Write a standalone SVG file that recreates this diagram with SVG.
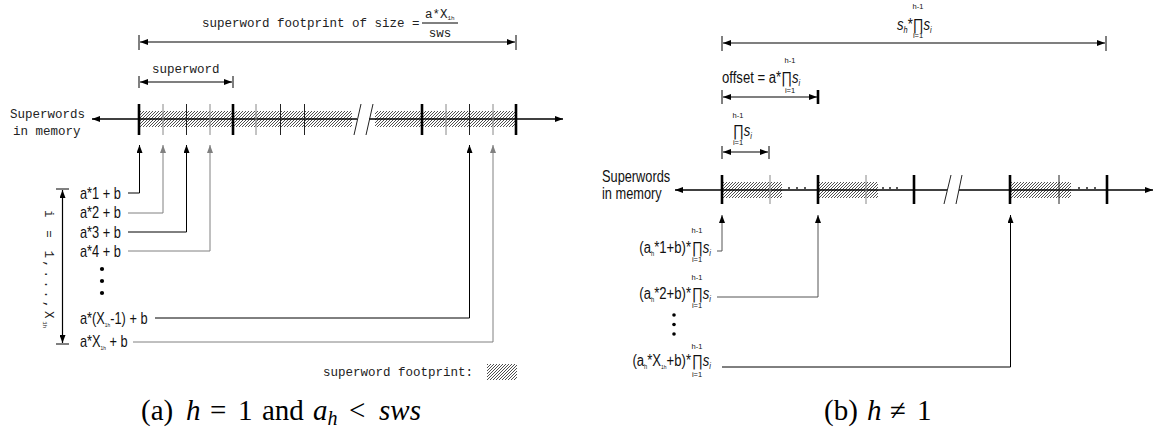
<svg xmlns="http://www.w3.org/2000/svg" width="1156" height="434" viewBox="0 0 1156 434">
<style>
.mono{font-family:"Liberation Mono","DejaVu Sans Mono",monospace;font-size:12.5px;fill:#222}
.sans{font-family:"Liberation Sans",Arial,sans-serif;font-size:16px;fill:#111}
.tiny{font-family:"Liberation Sans",Arial,sans-serif;font-size:7.5px;fill:#111}
.cap{font-family:"Liberation Serif","Times New Roman",serif;font-size:29px;fill:#000}
.it{font-style:italic}
.ln{stroke:#000;stroke-width:1;fill:none}
.gr{stroke:#808080;stroke-width:1;fill:none}
.mem{stroke:#000;stroke-width:1.5;fill:none}
.thick{stroke:#000;stroke-width:2.6;fill:none}
.thin{stroke:#222;stroke-width:1;fill:none}
.thing{stroke:#888;stroke-width:1;fill:none}
.dim{stroke:#000;stroke-width:1.2;fill:none;marker-start:url(#ahs);marker-end:url(#ah)}
.up{marker-end:url(#ah)}
.hatch{fill:url(#hatch);stroke:none}
</style>
<defs>
<pattern id="hatch" patternUnits="userSpaceOnUse" width="3" height="3">
<path d="M-1,1 L1,-1 M0,3 L3,0 M2,4 L4,2" stroke="#222" stroke-width="0.8"/>
</pattern>
<marker id="ah" markerWidth="8" markerHeight="6" refX="8" refY="3" orient="auto" markerUnits="userSpaceOnUse"><path d="M0,0 L8,3 L0,6 z" fill="#000"/></marker>
<marker id="ahs" markerWidth="8" markerHeight="6" refX="8" refY="3" orient="auto-start-reverse" markerUnits="userSpaceOnUse"><path d="M0,0 L8,3 L0,6 z" fill="#000"/></marker>
<marker id="ahg" markerWidth="8" markerHeight="6" refX="8" refY="3" orient="auto" markerUnits="userSpaceOnUse"><path d="M0,0 L8,3 L0,6 z" fill="#808080"/></marker>
</defs>

<!-- ===== LEFT PANEL ===== -->
<g id="dim-footprint">
<text class="mono" x="202" y="27">superword footprint of size =</text>
<text class="mono" x="425" y="18">a*X<tspan font-size="6" dy="2">1h</tspan></text>
<line class="ln" x1="422" y1="23" x2="458" y2="23" stroke-width="0.8"/>
<text class="mono" x="440" y="37" text-anchor="middle">sws</text>
<line class="ln" x1="139" y1="35" x2="139" y2="50"/>
<line class="ln" x1="516" y1="35" x2="516" y2="50"/>
<line class="dim" x1="140" y1="42" x2="515" y2="42"/>
</g>

<g id="dim-superword">
<text class="mono" x="152" y="73">superword</text>
<line class="ln" x1="139" y1="76" x2="139" y2="88"/>
<line class="ln" x1="233" y1="76" x2="233" y2="88"/>
<line class="dim" x1="140" y1="82" x2="232" y2="82"/>
</g>

<g id="memory-left">
<text class="mono" x="10" y="118">Superwords</text>
<text class="mono" x="13" y="135">in memory</text>
<rect class="hatch" x="139" y="111" width="213" height="16"/>
<rect class="hatch" x="375" y="111" width="141" height="16"/>
<line class="mem" x1="357" y1="119" x2="92" y2="119" style="marker-end:url(#ah)"/>
<line class="mem" x1="369" y1="119" x2="563" y2="119" style="marker-end:url(#ah)"/>
<line class="thin" x1="361" y1="104" x2="354" y2="135"/>
<line class="thin" x1="373" y1="104" x2="366" y2="135"/>
<line class="thick" x1="139" y1="104" x2="139" y2="135"/>
<line class="thick" x1="233" y1="104" x2="233" y2="135"/>
<line class="thick" x1="422" y1="104" x2="422" y2="135"/>
<line class="thick" x1="516" y1="104" x2="516" y2="135"/>
<line class="thing" x1="163" y1="104" x2="163" y2="135"/>
<line class="thin" x1="186.5" y1="104" x2="186.5" y2="135"/>
<line class="thing" x1="210" y1="104" x2="210" y2="135"/>
<line class="thing" x1="256" y1="104" x2="256" y2="135"/>
<line class="thin" x1="280.5" y1="104" x2="280.5" y2="135"/>
<line class="thin" x1="304.5" y1="104" x2="304.5" y2="135"/>
<line class="thing" x1="446" y1="104" x2="446" y2="135"/>
<line class="thin" x1="469.5" y1="104" x2="469.5" y2="135"/>
<line class="thing" x1="493" y1="104" x2="493" y2="135"/>
</g>

<g id="label-a1"><text class="sans" transform="translate(80,199) scale(0.8,1)">a*1 + b</text></g>
<g id="label-a2"><text class="sans" transform="translate(80,218) scale(0.8,1)">a*2 + b</text></g>
<g id="label-a3"><text class="sans" transform="translate(80,238) scale(0.8,1)">a*3 + b</text></g>
<g id="label-a4"><text class="sans" transform="translate(80,257) scale(0.8,1)">a*4 + b</text></g>
<g id="dots-left">
<circle cx="102" cy="269" r="2.1" fill="#000"/>
<circle cx="102" cy="281" r="2.1" fill="#000"/>
<circle cx="102" cy="293" r="2.1" fill="#000"/>
</g>
<g id="label-aXm1"><text class="sans" transform="translate(80,324) scale(0.8,1)">a*(X<tspan font-size="6" dy="3">1h</tspan><tspan dy="-3">-1) + b</tspan></text></g>
<g id="label-aX"><text class="sans" transform="translate(80,347) scale(0.8,1)">a*X<tspan font-size="6" dy="3">1h</tspan><tspan dy="-3"> + b</tspan></text></g>

<g id="range-i">
<line class="ln" x1="56" y1="189" x2="69" y2="189"/>
<line class="ln" x1="56" y1="344" x2="69" y2="344"/>
<line class="dim" x1="62.5" y1="190" x2="62.5" y2="343"/>
<text class="mono" transform="translate(45,210) rotate(90)" font-size="12" style="letter-spacing:2.6px">i = 1,...,X<tspan font-size="6" dy="2" style="letter-spacing:0">1h</tspan></text>
</g>

<g id="legend">
<text class="mono" x="323" y="376">superword footprint:</text>
<rect class="hatch" x="487" y="364" width="30" height="16"/>
</g>

<g id="caption-a">
<text class="cap" x="141" y="420">(a)</text>
<text class="cap it" x="186" y="420">h</text>
<text class="cap" x="210" y="420">=</text>
<text class="cap" x="238" y="420">1</text>
<text class="cap" x="262" y="420">and</text>
<text class="cap it" x="313" y="420">a<tspan font-size="20" dy="5">h</tspan></text>
<text class="cap" x="349" y="420">&lt;</text>
<text class="cap it" x="379" y="420">sws</text>
</g>

<!-- ===== RIGHT PANEL ===== -->
<g id="dim-total">
<text class="tiny" x="918" y="9" text-anchor="middle">h-1</text>
<text class="sans" transform="translate(897,30) scale(0.82,1)"><tspan class="it">s</tspan><tspan class="it" font-size="9" dy="3">h</tspan><tspan dy="-3">*∏</tspan><tspan class="it">s</tspan><tspan class="it" font-size="9" dy="3">i</tspan></text>
<text class="tiny" x="918" y="38" text-anchor="middle">i=1</text>
<line class="ln" x1="722" y1="36" x2="722" y2="51"/>
<line class="ln" x1="1106" y1="36" x2="1106" y2="51"/>
<line class="dim" x1="723" y1="43" x2="1105" y2="43"/>
</g>

<g id="dim-offset">
<text class="sans" transform="translate(722,83) scale(0.82,1)">offset =  a*∏<tspan class="it">s</tspan><tspan class="it" font-size="9" dy="3">i</tspan></text>
<text class="tiny" x="790" y="63" text-anchor="middle">h-1</text>
<text class="tiny" x="790" y="93" text-anchor="middle">i=1</text>
<line class="ln" x1="722" y1="90" x2="722" y2="104"/>
<line class="thick" x1="818" y1="90" x2="818" y2="104" stroke-width="1.8"/>
<line class="dim" x1="723" y1="97" x2="817" y2="97"/>
</g>

<g id="dim-prod">
<text class="tiny" x="738" y="118" text-anchor="middle">h-1</text>
<text class="sans" transform="translate(733,136) scale(0.82,1)">∏<tspan class="it">s</tspan><tspan class="it" font-size="9" dy="3">i</tspan></text>
<text class="tiny" x="738" y="145" text-anchor="middle">i=1</text>
<line class="ln" x1="722" y1="146" x2="722" y2="159"/>
<line class="ln" x1="769" y1="146" x2="769" y2="159"/>
<line class="dim" x1="723" y1="152" x2="768" y2="152"/>
</g>

<g id="memory-right">
<text class="sans" transform="translate(602,182) scale(0.8,1)" font-size="15">Superwords</text>
<text class="sans" transform="translate(602,199) scale(0.8,1)" font-size="15">in memory</text>
<rect class="hatch" x="722" y="182" width="60" height="16"/>
<rect class="hatch" x="818" y="182" width="60" height="16"/>
<rect class="hatch" x="1010" y="182" width="61" height="16"/>
<line class="mem" x1="947" y1="190" x2="675" y2="190" style="marker-end:url(#ah)"/>
<line class="mem" x1="959" y1="190" x2="1153" y2="190" style="marker-end:url(#ah)"/>
<line class="thin" x1="951" y1="175" x2="944" y2="204"/>
<line class="thin" x1="962" y1="175" x2="956" y2="204"/>
<line class="thick" x1="722" y1="175" x2="722" y2="204"/>
<line class="thick" x1="818" y1="175" x2="818" y2="204"/>
<line class="thick" x1="914" y1="175" x2="914" y2="204"/>
<line class="thick" x1="1010" y1="175" x2="1010" y2="204"/>
<line class="thick" x1="1107" y1="175" x2="1107" y2="204"/>
<line class="thing" x1="770" y1="175" x2="770" y2="204"/>
<line class="thing" x1="866" y1="175" x2="866" y2="204"/>
<line class="thin" x1="1059" y1="175" x2="1059" y2="204"/>
<g fill="#222">
<circle cx="789" cy="188" r="1"/><circle cx="797" cy="188" r="1"/><circle cx="805" cy="188" r="1"/>
<circle cx="883" cy="188" r="1"/><circle cx="890" cy="188" r="1"/><circle cx="897" cy="188" r="1"/>
<circle cx="1079" cy="188" r="1"/><circle cx="1087" cy="188" r="1"/><circle cx="1095" cy="188" r="1"/>
</g>
</g>

<g id="label-r1">
<text class="tiny" x="697" y="233" text-anchor="middle">h-1</text>
<text class="sans" transform="translate(691,253) scale(0.82,1)" text-anchor="end">(a<tspan font-size="7" dy="3">h</tspan><tspan dy="-3">*1+b)*</tspan></text>
<text class="sans" transform="translate(692,253) scale(0.82,1)">∏<tspan class="it">s</tspan><tspan class="it" font-size="9" dy="3">i</tspan></text>
<text class="tiny" x="697" y="262" text-anchor="middle">i=1</text>
</g>
<g id="label-r2">
<text class="tiny" x="697" y="280" text-anchor="middle">h-1</text>
<text class="sans" transform="translate(691,299) scale(0.82,1)" text-anchor="end">(a<tspan font-size="7" dy="3">h</tspan><tspan dy="-3">*2+b)*</tspan></text>
<text class="sans" transform="translate(692,299) scale(0.82,1)">∏<tspan class="it">s</tspan><tspan class="it" font-size="9" dy="3">i</tspan></text>
<text class="tiny" x="697" y="308" text-anchor="middle">i=1</text>
</g>
<g id="dots-right">
<circle cx="674" cy="315" r="1.8" fill="#000"/>
<circle cx="674" cy="324.5" r="1.8" fill="#000"/>
<circle cx="674" cy="334" r="1.8" fill="#000"/>
</g>
<g id="label-r3">
<text class="tiny" x="697" y="349" text-anchor="middle">h-1</text>
<text class="sans" transform="translate(691,366) scale(0.82,1)" text-anchor="end">(a<tspan font-size="7" dy="3">h</tspan><tspan dy="-3">*X</tspan><tspan font-size="6" dy="3">1h</tspan><tspan dy="-3">+b)*</tspan></text>
<text class="sans" transform="translate(692,366) scale(0.82,1)">∏<tspan class="it">s</tspan><tspan class="it" font-size="9" dy="3">i</tspan></text>
<text class="tiny" x="697" y="377" text-anchor="middle">i=1</text>
</g>

<g id="caption-b">
<text class="cap" x="824" y="420">(b)</text>
<text class="cap it" x="867" y="420">h</text>
<text class="cap" x="890" y="420">≠</text>
<text class="cap" x="917" y="420">1</text>
</g>

<!-- ===== CONNECTORS ===== -->
<g id="connectors">
<polyline class="ln up" points="128,193 139.5,193 139.5,145"/>
<polyline class="gr" points="128,213 163,213 163,145" style="marker-end:url(#ahg)"/>
<polyline class="ln up" points="128,232 186.5,232 186.5,145"/>
<polyline class="gr" points="128,251 210,251 210,145" style="marker-end:url(#ahg)"/>
<polyline class="ln up" points="155,318 469.5,318 469.5,145"/>
<polyline class="gr" points="133,342 493,342 493,145" style="marker-end:url(#ahg)"/>
<polyline class="gr" points="717,251 722,251 722,215" style="stroke:#555;marker-end:url(#ah)"/>
<polyline class="gr" points="717,297 818,297 818,215" style="stroke:#555;marker-end:url(#ah)"/>
<polyline class="ln up" points="722,367 1010.5,367 1010.5,215"/>
</g>
</svg>
